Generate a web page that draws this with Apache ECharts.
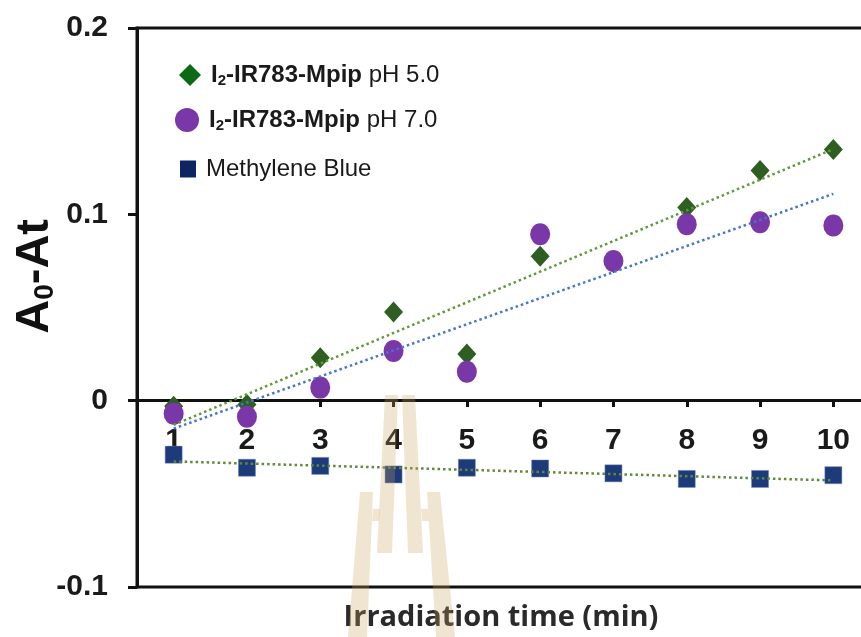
<!DOCTYPE html>
<html>
<head>
<meta charset="utf-8">
<script src="https://cdn.jsdelivr.net/npm/echarts@6/dist/echarts.min.js"></script>
<style>
html,body{margin:0;padding:0;background:#fff;}
#c{width:861px;height:637px;}
</style>
</head>
<body>
<div id="c"></div>
<script>
// ---- data ----
const categories = ['1','2','3','4','5','6','7','8','9','10'];
const ph5Values = [-0.003, -0.002, 0.023, 0.0476, 0.025, 0.0775, 0.074, 0.1037, 0.1235, 0.1348];
const ph7Values = [-0.007, -0.0086, 0.007, 0.0267, 0.0155, 0.0893, 0.075, 0.0947, 0.0957, 0.094];
const mbValues  = [-0.029, -0.036, -0.035, -0.0396, -0.036, -0.0364, -0.039, -0.042, -0.042, -0.040];
// trend line end values at x = 1 and x = 10
const trendX    = ['1', '10'];
const trendPH5  = [-0.013, 0.135];
const trendPH7  = [-0.015, 0.111];
const trendMB   = [-0.0326, -0.0428];
const yTicks = [-0.1, 0, 0.1, 0.2];

const nPH5 = 'I2-IR783-Mpip pH 5.0';
const nPH7 = 'I2-IR783-Mpip pH 7.0';
const nMB  = 'Methylene Blue';

const FONT = 'Liberation Sans, Arial, sans-serif';
const cGreen = '#2f5e22';
const cPurple = '#7a37a8';
const cNavy = '#1d3a7a';

function pairs(xs, ys){ return xs.map((x,i)=>[x, ys[i]]); }

const chart = echarts.init(document.getElementById('c'), null, {renderer:'canvas'});

const legendRich = {
  b:{fontFamily:FONT, fontWeight:'bold', fontSize:24, color:'#1a1a1a'},
  s:{fontFamily:FONT, fontWeight:'bold', fontSize:15, color:'#1a1a1a', verticalAlign:'bottom', padding:[11,0,0,0]},
  r:{fontFamily:FONT, fontWeight:'normal', fontSize:24, color:'#1a1a1a'}
};
function legendFmt(name){
  if (name === nPH5) return '{b|I}{s|2}{b|-IR783-Mpip}{r| pH 5.0}';
  if (name === nPH7) return '{b|I}{s|2}{b|-IR783-Mpip}{r| pH 7.0}';
  return '{r|' + name + '}';
}
const legendText = {rich:legendRich, padding:[0,0,0,5]};

const wm = 'rgba(200,160,90,0.28)';
function poly(points){ return {type:'polygon', z:100, silent:true, shape:{points}, style:{fill:wm}}; }

const option = {
  animation:false,
  backgroundColor:'#fff',
  grid:{left:137, top:28, width:733, height:559, show:true, borderColor:'#111', borderWidth:3, backgroundColor:'transparent', containLabel:false, outerBoundsMode:'none'},
  legend:[
    {data:[{name:nPH5, icon:'diamond', itemStyle:{color:'#0d6a14', borderWidth:0}}], left:179, top:63, padding:0, itemWidth:22, itemHeight:22, formatter:legendFmt, textStyle:legendText},
    {data:[{name:nPH7, icon:'circle', itemStyle:{borderWidth:0}}], left:175, top:108, padding:0, itemWidth:24, itemHeight:24, formatter:legendFmt, textStyle:legendText},
    {data:[{name:nMB, icon:'rect', itemStyle:{color:'#0e2463', borderWidth:0}}], left:180, top:157, padding:0, itemWidth:16, itemHeight:17, formatter:legendFmt, textStyle:legendText}
  ],
  xAxis:{
    type:'category', data:categories, boundaryGap:true, position:'bottom', offset:-187,
    axisLine:{show:true, onZero:false, lineStyle:{color:'#111', width:3}},
    axisTick:{show:true, alignWithLabel:true, length:7, lineStyle:{color:'#111', width:3}},
    axisLabel:{margin:26, color:'#1a1a1a', fontSize:30, fontWeight:'bold', fontFamily:FONT},
    splitLine:{show:false}
  },
  yAxis:{
    type:'value', min:yTicks[0], max:yTicks[yTicks.length-1], interval:0.1,
    axisLine:{show:true, lineStyle:{color:'#111', width:3}},
    axisTick:{show:true, length:9, lineStyle:{color:'#111', width:3}},
    axisLabel:{margin:29, color:'#1a1a1a', fontSize:30, fontWeight:'bold', fontFamily:FONT,
      formatter:v=>String(Math.round(v*10)/10)},
    splitLine:{show:false}
  },
  series:[
    {name:nPH5, type:'scatter', data:ph5Values, symbol:'diamond', symbolSize:[19,21], itemStyle:{color:cGreen, opacity:1}, z:2},
    {name:nPH7, type:'scatter', data:ph7Values, symbol:'circle', symbolSize:[20,22], itemStyle:{color:cPurple, opacity:1}, z:3},
    {name:nMB, type:'scatter', data:mbValues, symbol:'rect', symbolSize:17, itemStyle:{color:cNavy, opacity:1, borderColor:'#6d83b8', borderWidth:0.5}, z:2},
    {name:'t5', type:'line', data:pairs(trendX, trendPH5), symbol:'none', lineStyle:{color:'#5f9a3a', width:2.5, type:[2.5,3]}, z:5, silent:true},
    {name:'t7', type:'line', data:pairs(trendX, trendPH7), symbol:'none', lineStyle:{color:'#4676cc', width:2.5, type:[2.5,3]}, z:5, silent:true},
    {name:'tmb', type:'line', data:pairs(trendX, trendMB), symbol:'none', lineStyle:{color:'#5f8a3a', width:2.5, type:[2.5,3]}, z:5, silent:true}
  ],
  graphic:[
    {type:'text', z:50, left:12, top:219, rotation:Math.PI/2, origin:[0,0],
     style:{text:'{a|A}{s|0}{a|-At}', rich:{
       a:{fontFamily:FONT, fontWeight:'bold', fontSize:47, fill:'#111'},
       s:{fontFamily:FONT, fontWeight:'bold', fontSize:28, fill:'#111', verticalAlign:'bottom', padding:[19,0,0,0]}
     }}},
    {type:'text', z:50, style:{x:501, y:618, text:'Irradiation time (min)', fontFamily:'Open Sans, sans-serif', fontWeight:'bold', fontSize:29, fill:'#2a2a2a', align:'center', verticalAlign:'middle'}},
    poly([[385,395],[398,395],[392,553],[377,553]]),
    poly([[402,395],[415,395],[423,553],[408,553]]),
    poly([[360,492],[373,492],[367,637],[348,637]]),
    poly([[427,492],[440,492],[455,637],[436,637]]),
    poly([[373,509],[380,509],[379,521],[372,521]]),
    poly([[421,509],[428,509],[429,521],[422,521]])
  ]
};
chart.setOption(option);
</script>
</body>
</html>
